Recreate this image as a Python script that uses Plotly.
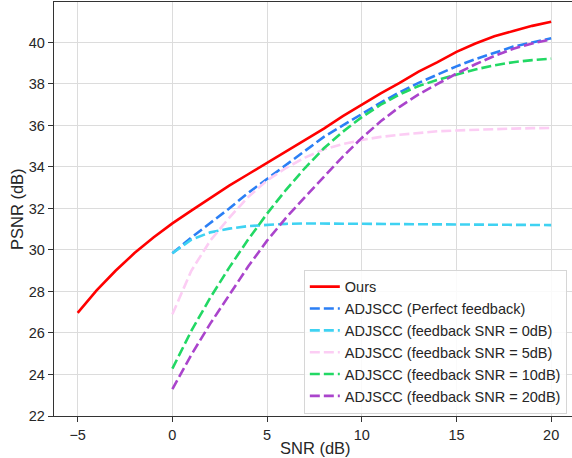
import plotly.graph_objects as go

snr_ours = list(range(-5, 21))
psnr_ours = [26.97, 28.05, 29.0, 29.85, 30.6, 31.28, 31.9, 32.5, 33.1, 33.65, 34.2,
             34.75, 35.3, 35.85, 36.45, 37.0, 37.55, 38.05, 38.6, 39.05, 39.55,
             39.95, 40.3, 40.55, 40.8, 41.0]

snr_adj = list(range(0, 21))
psnr_perfect = [29.84, 30.6, 31.3, 32.0, 32.75, 33.43, 34.1, 34.8, 35.45, 36.0, 36.55,
                37.1, 37.6, 38.05, 38.45, 38.85, 39.2, 39.5, 39.8, 40.0, 40.2]
psnr_fb0 = [29.84, 30.5, 30.85, 31.03, 31.15, 31.22, 31.26, 31.28, 31.28, 31.28, 31.27,
            31.26, 31.25, 31.24, 31.23, 31.22, 31.22, 31.21, 31.2, 31.2, 31.2]
psnr_fb5 = [26.9, 29.0, 30.45, 31.55, 32.55, 33.35, 33.95, 34.45, 34.85, 35.1, 35.3,
            35.45, 35.55, 35.65, 35.72, 35.76, 35.8, 35.83, 35.85, 35.87, 35.88]
psnr_fb10 = [24.28, 26.1, 27.7, 29.15, 30.5, 31.75, 32.9, 33.95, 34.9, 35.7, 36.4,
             37.0, 37.5, 37.9, 38.2, 38.45, 38.7, 38.9, 39.05, 39.15, 39.22]
psnr_fb20 = [23.3, 24.95, 26.45, 27.8, 29.2, 30.45, 31.55, 32.55, 33.55, 34.5, 35.4,
             36.2, 36.9, 37.5, 38.0, 38.5, 38.95, 39.35, 39.7, 39.95, 40.15]

x_ticks = [-5, 0, 5, 10, 15, 20]
y_ticks = [22, 24, 26, 28, 30, 32, 34, 36, 38, 40]
x_title = "SNR (dB)"
y_title = "PSNR (dB)"

series = [
    ("Ours", snr_ours, psnr_ours, "#ff0000", "solid"),
    ("ADJSCC (Perfect feedback)", snr_adj, psnr_perfect, "#2b7ff5", "10px,4px"),
    ("ADJSCC (feedback SNR = 0dB)", snr_adj, psnr_fb0, "#3fd2f2", "10px,4px"),
    ("ADJSCC (feedback SNR = 5dB)", snr_adj, psnr_fb5, "#fccdf4", "10px,4px"),
    ("ADJSCC (feedback SNR = 10dB)", snr_adj, psnr_fb10, "#22d864", "10px,4px"),
    ("ADJSCC (feedback SNR = 20dB)", snr_adj, psnr_fb20, "#aa44cc", "10px,4px"),
]

fig = go.Figure()
for name, xs, ys, color, dash in series:
    fig.add_trace(go.Scatter(x=xs, y=ys, mode="lines", name=name,
                             line=dict(color=color, width=2.6, dash=dash)))

font = "Liberation Sans, Arial, sans-serif"
fig.update_layout(
    width=572, height=458,
    margin=dict(l=54, r=0, t=2, b=42),
    paper_bgcolor="white", plot_bgcolor="white",
    font=dict(family=font, size=14, color="#262626"),
    showlegend=True,
    legend=dict(x=0.99, y=0.0055, xanchor="right", yanchor="bottom",
                bgcolor="rgba(255,255,255,0.85)", bordercolor="#d6d6d6", borderwidth=1,
                font=dict(family=font, size=14.5, color="#262626"),
                tracegroupgap=0, itemwidth=30),
    xaxis=dict(range=[-6.25, 21.1], tickvals=x_ticks, showgrid=True, gridcolor="#dcdcdc",
               gridwidth=1, showline=True, linecolor="#333333", linewidth=1.3, mirror=True,
               ticks="outside", ticklen=5, tickcolor="#333333", zeroline=False,
               automargin=False, tickfont=dict(size=14.5)),
    yaxis=dict(range=[22, 41.95], tickvals=y_ticks, showgrid=True, gridcolor="#dcdcdc",
               gridwidth=1, showline=True, linecolor="#333333", linewidth=1.3,
               ticks="outside", ticklen=5, tickcolor="#333333", zeroline=False,
               automargin=False, tickfont=dict(size=14.5)),
    annotations=[
        dict(text=x_title, xref="paper", yref="paper", x=0.504, y=-0.077,
             xanchor="center", yanchor="middle", showarrow=False,
             font=dict(family=font, size=16.5, color="#262626")),
        dict(text=y_title, xref="paper", yref="paper", x=-0.0714, y=0.5,
             xanchor="center", yanchor="middle", showarrow=False, textangle=-90,
             font=dict(family=font, size=16.5, color="#262626")),
    ],
)

fig.write_html("out.html", config={"displayModeBar": False},
               post_script="document.body.style.margin='0';document.body.style.overflow='hidden';")
